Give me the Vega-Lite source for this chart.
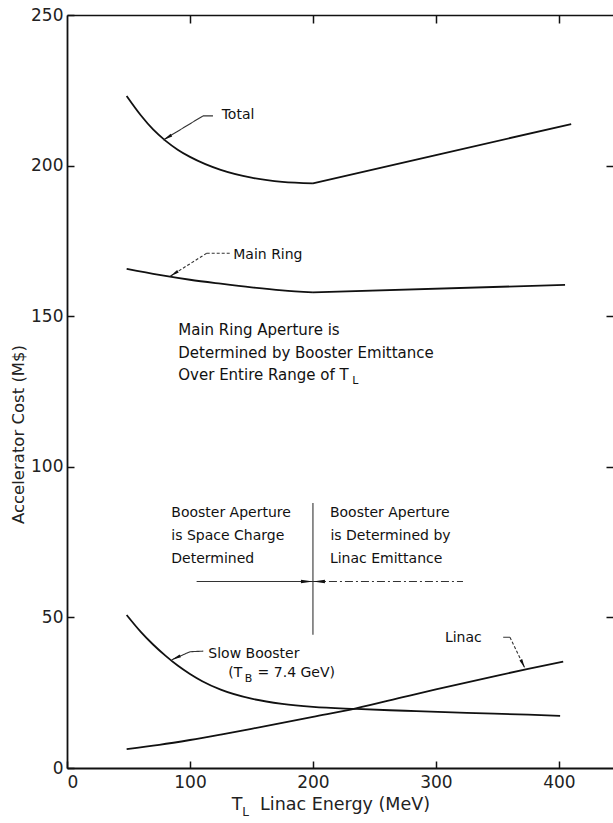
{
"$schema": "https://vega.github.io/schema/vega-lite/v6.json",
"width": 546,
"height": 753,
"autosize": {"type": "none"},
"padding": {"left": 67, "top": 15, "right": 0, "bottom": 55},
"background": "white",
"config": {"view": {"stroke": null}, "font": "DejaVu Sans"},
"datasets": {
  "curves": [
    {"series": "Total", "x": 48.5, "y": 223.1},
    {"series": "Total", "x": 60, "y": 216.7},
    {"series": "Total", "x": 70, "y": 212.0},
    {"series": "Total", "x": 80, "y": 208.3},
    {"series": "Total", "x": 90, "y": 205.3},
    {"series": "Total", "x": 100, "y": 202.9},
    {"series": "Total", "x": 112.5, "y": 200.5},
    {"series": "Total", "x": 125, "y": 198.6},
    {"series": "Total", "x": 150, "y": 196.0},
    {"series": "Total", "x": 175, "y": 194.6},
    {"series": "Total", "x": 200, "y": 194.1},
    {"series": "Total (right)", "x": 200, "y": 194.1},
    {"series": "Total (right)", "x": 300, "y": 203.5},
    {"series": "Total (right)", "x": 410, "y": 213.8},
    {"series": "Main Ring", "x": 48.5, "y": 165.7},
    {"series": "Main Ring", "x": 75, "y": 163.7},
    {"series": "Main Ring", "x": 100, "y": 162.1},
    {"series": "Main Ring", "x": 125, "y": 160.8},
    {"series": "Main Ring", "x": 150, "y": 159.6},
    {"series": "Main Ring", "x": 175, "y": 158.6},
    {"series": "Main Ring", "x": 200, "y": 157.9},
    {"series": "Main Ring (right)", "x": 200, "y": 157.9},
    {"series": "Main Ring (right)", "x": 405, "y": 160.4},
    {"series": "Slow Booster", "x": 48.5, "y": 50.8},
    {"series": "Slow Booster", "x": 60, "y": 45.2},
    {"series": "Slow Booster", "x": 70, "y": 41.0},
    {"series": "Slow Booster", "x": 80, "y": 37.3},
    {"series": "Slow Booster", "x": 90, "y": 34.0},
    {"series": "Slow Booster", "x": 100, "y": 31.2},
    {"series": "Slow Booster", "x": 110, "y": 28.8},
    {"series": "Slow Booster", "x": 125, "y": 26.0},
    {"series": "Slow Booster", "x": 150, "y": 23.0},
    {"series": "Slow Booster", "x": 175, "y": 21.3},
    {"series": "Slow Booster", "x": 200, "y": 20.3},
    {"series": "Slow Booster", "x": 235, "y": 19.6},
    {"series": "Slow Booster", "x": 275, "y": 19.0},
    {"series": "Slow Booster", "x": 325, "y": 18.3},
    {"series": "Slow Booster", "x": 375, "y": 17.7},
    {"series": "Slow Booster", "x": 401, "y": 17.3},
    {"series": "Linac", "x": 48.5, "y": 6.3},
    {"series": "Linac", "x": 75, "y": 7.7},
    {"series": "Linac", "x": 100, "y": 9.3},
    {"series": "Linac", "x": 125, "y": 11.1},
    {"series": "Linac", "x": 150, "y": 13.0},
    {"series": "Linac", "x": 175, "y": 15.0},
    {"series": "Linac", "x": 200, "y": 17.0},
    {"series": "Linac", "x": 235, "y": 19.8},
    {"series": "Linac", "x": 275, "y": 23.7},
    {"series": "Linac", "x": 300, "y": 26.1},
    {"series": "Linac", "x": 350, "y": 30.7},
    {"series": "Linac", "x": 375, "y": 32.9},
    {"series": "Linac", "x": 403.5, "y": 35.3}
  ],
  "leaders": [
    {"x": 110.6, "y": 216.5, "x2": 118.7, "y2": 216.5, "line": "solid"},
    {"x": 110.6, "y": 216.5, "x2": 78.3, "y2": 208.5, "line": "solid"},
    {"x": 113.6, "y": 170.9, "x2": 132.5, "y2": 170.9, "line": "dotted"},
    {"x": 113.6, "y": 170.9, "x2": 83.7, "y2": 163.2, "line": "dotted"},
    {"x": 100, "y": 38.6, "x2": 110.8, "y2": 38.8, "line": "solid"},
    {"x": 100, "y": 38.6, "x2": 85.1, "y2": 35.9, "line": "solid"},
    {"x": 354.7, "y": 43.4, "x2": 360.2, "y2": 43.4, "line": "solid"},
    {"x": 360.2, "y": 43.4, "x2": 372.4, "y2": 33.1, "line": "dotted"},
    {"x": 105.4, "y": 61.9, "x2": 200, "y2": 61.9, "line": "solid"},
    {"x": 200, "y": 61.9, "x2": 322, "y2": 61.9, "line": "dashdot"},
    {"x": 200, "y": 44.2, "x2": 200, "y2": 88, "line": "solid"}
  ],
  "notes": [
    {"text": "Total", "x": 125.8, "y": 216.8},
    {"text": "Main Ring", "x": 135.2, "y": 170.3},
    {"text": "Slow Booster", "x": 114.9, "y": 37.7},
    {"text": "(T", "x": 131.1, "y": 31.4},
    {"text": "= 7.4 GeV)", "x": 155, "y": 31.4},
    {"text": "Linac", "x": 307.3, "y": 43},
    {"text": "Booster Aperture", "x": 84.8, "y": 84.8},
    {"text": "is Space Charge", "x": 84.8, "y": 77.1},
    {"text": "Determined", "x": 84.8, "y": 69.3},
    {"text": "Booster Aperture", "x": 213.8, "y": 84.8},
    {"text": "is Determined by", "x": 214.2, "y": 77.1},
    {"text": "Linac Emittance", "x": 213.8, "y": 69.3}
  ],
  "block": [
    {"text": "Main Ring Aperture is", "x": 90.5, "y": 145.4},
    {"text": "Determined by Booster Emittance", "x": 90.5, "y": 137.9},
    {"text": "Over Entire Range of T", "x": 90.5, "y": 130.5}
  ],
  "subs": [
    {"text": "L", "x": 232, "y": 128.4},
    {"text": "B", "x": 144.5, "y": 29.4}
  ],
  "xtitle": [
    {"text": "T", "x": 134, "y": -12.3},
    {"text": "Linac Energy (MeV)", "x": 157, "y": -12.3}
  ],
  "xsub": [
    {"text": "L", "x": 142.5, "y": -14.6}
  ]
},
"resolve": {"axis": {"x": "independent", "y": "independent"}},
"layer": [
  {
    "data": {"name": "curves"},
    "transform": [{"filter": {"field": "series", "oneOf": ["Total", "Main Ring", "Slow Booster", "Linac"]}}],
    "mark": {"type": "line", "interpolate": "monotone", "color": "#111", "strokeWidth": 1.8},
    "encoding": {
      "x": {"field": "x", "type": "quantitative", "scale": {"domain": [0, 444], "nice": false, "zero": false},
        "axis": {"orient": "bottom", "values": [0, 100, 200, 300, 400], "title": null, "grid": false,
          "domainColor": "#111", "domainWidth": 1.8, "tickColor": "#111", "tickWidth": 1.5, "tickSize": -7,
          "labelPadding": 13, "labelFont": "DejaVu Sans", "labelFontSize": 17, "labelColor": "#222"}},
      "y": {"field": "y", "type": "quantitative", "scale": {"domain": [0, 250], "nice": false},
        "axis": {"orient": "left", "values": [0, 50, 100, 150, 200, 250], "title": "Accelerator Cost (M$)", "grid": false,
          "domainColor": "#111", "domainWidth": 1.8, "tickColor": "#111", "tickWidth": 1.5, "tickSize": -7,
          "labelPadding": 11, "labelFont": "DejaVu Sans", "labelFontSize": 17, "labelColor": "#222",
          "titleFont": "DejaVu Sans", "titleFontSize": 16.5, "titleFontWeight": "normal", "titleColor": "#222",
          "titleX": -49, "titleY": 419, "titleBaseline": "middle"}},
      "detail": {"field": "series"}
    }
  },
  {
    "data": {"name": "curves"},
    "transform": [{"filter": {"field": "series", "oneOf": ["Total (right)", "Main Ring (right)"]}}],
    "mark": {"type": "line", "interpolate": "linear", "color": "#111", "strokeWidth": 1.8},
    "encoding": {
      "x": {"field": "x", "type": "quantitative", "scale": {"domain": [0, 444], "nice": false, "zero": false},
        "axis": {"orient": "top", "values": [100, 200, 300, 400], "labels": false, "title": null, "grid": false,
          "domainColor": "#111", "domainWidth": 1.5, "tickColor": "#111", "tickWidth": 1.5, "tickSize": -8}},
      "y": {"field": "y", "type": "quantitative", "scale": {"domain": [0, 250], "nice": false},
        "axis": {"orient": "right", "values": [50, 100, 150, 200], "labels": false, "title": null, "grid": false,
          "domain": false, "tickColor": "#111", "tickWidth": 1.5, "tickSize": -7}},
      "detail": {"field": "series"}
    }
  },
  {
    "data": {"name": "leaders"},
    "mark": {"type": "rule", "color": "#333", "strokeWidth": 1.1},
    "encoding": {
      "x": {"field": "x", "type": "quantitative", "axis": null},
      "y": {"field": "y", "type": "quantitative", "axis": null},
      "x2": {"field": "x2"},
      "y2": {"field": "y2"},
      "strokeDash": {"field": "line", "type": "nominal", "legend": null,
        "scale": {"domain": ["solid", "dotted", "dashdot"], "range": [[1, 0], [3, 2], [8, 3, 2, 3]]}}
    }
  },
  {
    "data": {"values": [{"x": 78.3, "y": 208.5}]},
    "mark": {"type": "point", "shape": "M0,0L0.32,2L-0.32,2Z", "filled": true, "color": "#111", "opacity": 1, "size": 90, "angle": 239},
    "encoding": {"x": {"field": "x", "type": "quantitative", "axis": null}, "y": {"field": "y", "type": "quantitative", "axis": null}}
  },
  {
    "data": {"values": [{"x": 83.7, "y": 163.2}]},
    "mark": {"type": "point", "shape": "M0,0L0.32,2L-0.32,2Z", "filled": true, "color": "#111", "opacity": 1, "size": 90, "angle": 237.5},
    "encoding": {"x": {"field": "x", "type": "quantitative", "axis": null}, "y": {"field": "y", "type": "quantitative", "axis": null}}
  },
  {
    "data": {"values": [{"x": 85.1, "y": 35.9}]},
    "mark": {"type": "point", "shape": "M0,0L0.32,2L-0.32,2Z", "filled": true, "color": "#111", "opacity": 1, "size": 90, "angle": 245.6},
    "encoding": {"x": {"field": "x", "type": "quantitative", "axis": null}, "y": {"field": "y", "type": "quantitative", "axis": null}}
  },
  {
    "data": {"values": [{"x": 372.4, "y": 33.1}]},
    "mark": {"type": "point", "shape": "M0,0L0.32,2L-0.32,2Z", "filled": true, "color": "#111", "opacity": 1, "size": 90, "angle": 154.2},
    "encoding": {"x": {"field": "x", "type": "quantitative", "axis": null}, "y": {"field": "y", "type": "quantitative", "axis": null}}
  },
  {
    "data": {"values": [{"x": 200, "y": 61.9}]},
    "mark": {"type": "point", "shape": "M0,0L0.3,2L-0.3,2Z", "filled": true, "color": "#111", "opacity": 1, "size": 144, "angle": 90},
    "encoding": {"x": {"field": "x", "type": "quantitative", "axis": null}, "y": {"field": "y", "type": "quantitative", "axis": null}}
  },
  {
    "data": {"values": [{"x": 200, "y": 61.9}]},
    "mark": {"type": "point", "shape": "M0,0L0.3,2L-0.3,2Z", "filled": true, "color": "#111", "opacity": 1, "size": 144, "angle": 270},
    "encoding": {"x": {"field": "x", "type": "quantitative", "axis": null}, "y": {"field": "y", "type": "quantitative", "axis": null}}
  },
  {
    "data": {"name": "notes"},
    "mark": {"type": "text", "align": "left", "baseline": "middle", "font": "DejaVu Sans", "fontSize": 14, "color": "#111"},
    "encoding": {"x": {"field": "x", "type": "quantitative", "axis": null}, "y": {"field": "y", "type": "quantitative", "axis": null}, "text": {"field": "text"}}
  },
  {
    "data": {"name": "block"},
    "mark": {"type": "text", "align": "left", "baseline": "middle", "font": "DejaVu Sans", "fontSize": 15, "color": "#111"},
    "encoding": {"x": {"field": "x", "type": "quantitative", "axis": null}, "y": {"field": "y", "type": "quantitative", "axis": null}, "text": {"field": "text"}}
  },
  {
    "data": {"name": "subs"},
    "mark": {"type": "text", "align": "left", "baseline": "middle", "font": "DejaVu Sans", "fontSize": 11, "color": "#111"},
    "encoding": {"x": {"field": "x", "type": "quantitative", "axis": null}, "y": {"field": "y", "type": "quantitative", "axis": null}, "text": {"field": "text"}}
  },
  {
    "data": {"name": "xtitle"},
    "mark": {"type": "text", "align": "left", "baseline": "middle", "font": "DejaVu Sans", "fontSize": 17.5, "color": "#222"},
    "encoding": {"x": {"field": "x", "type": "quantitative", "axis": null}, "y": {"field": "y", "type": "quantitative", "axis": null}, "text": {"field": "text"}}
  },
  {
    "data": {"name": "xsub"},
    "mark": {"type": "text", "align": "left", "baseline": "middle", "font": "DejaVu Sans", "fontSize": 12, "color": "#222"},
    "encoding": {"x": {"field": "x", "type": "quantitative", "axis": null}, "y": {"field": "y", "type": "quantitative", "axis": null}, "text": {"field": "text"}}
  }
]
}
